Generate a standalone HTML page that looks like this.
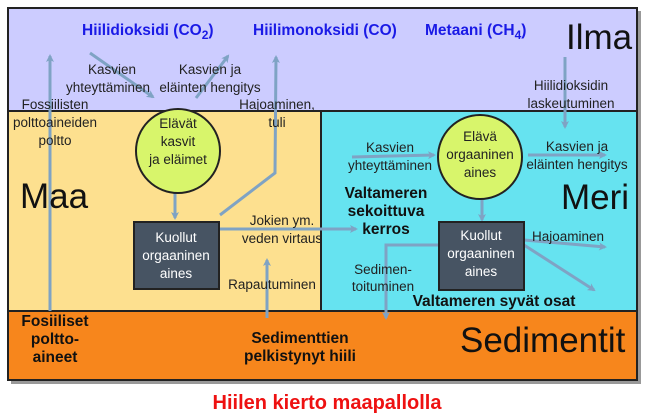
<!DOCTYPE html>
<html><head><meta charset="utf-8"><style>
body{margin:0;background:#fff;}
svg{display:block;font-family:"Liberation Sans",sans-serif;}
</style></head><body>
<svg width="650" height="420" viewBox="0 0 650 420">
<defs>
<marker id="a" markerWidth="8" markerHeight="8" refX="6" refY="4" orient="auto" markerUnits="userSpaceOnUse"><path d="M0,0 L8,4 L0,8 L2,4z" fill="#7fa3c4"/></marker>
</defs>
<rect x="11" y="11" width="630" height="373" fill="#999"/>
<rect x="8" y="8" width="629" height="103" fill="#ccccff" stroke="#222" stroke-width="2"/>
<rect x="8" y="111" width="313" height="200" fill="#fde08f" stroke="#222" stroke-width="2"/>
<rect x="321" y="111" width="316" height="200" fill="#66e3f0" stroke="#222" stroke-width="2"/>
<rect x="8" y="311" width="629" height="69" fill="#f7861c" stroke="#222" stroke-width="2"/>
<g stroke="#7fa3c4" stroke-width="3" fill="none" marker-end="url(#a)">
<line x1="50" y1="311" x2="50" y2="56"/>
<line x1="90" y1="53" x2="153" y2="97"/>
<line x1="196" y1="98" x2="228" y2="56"/>
<polyline points="220,215 275,173 276,57"/>
<line x1="175" y1="192" x2="175" y2="218"/>
<line x1="220" y1="229" x2="356" y2="229"/>
<line x1="267" y1="318" x2="267" y2="260"/>
<line x1="565" y1="57" x2="565" y2="127"/>
<line x1="352" y1="157" x2="434" y2="155"/>
<line x1="528" y1="155" x2="605" y2="155"/>
<line x1="482" y1="200" x2="482" y2="220"/>
<line x1="524" y1="240" x2="605" y2="247"/>
<line x1="524" y1="245" x2="594" y2="290"/>
<polyline points="438,245 386,245 386,318"/>
</g>
<circle cx="178" cy="151" r="42" fill="#d8f56b" stroke="#222" stroke-width="2"/>
<circle cx="480" cy="157" r="42" fill="#d8f56b" stroke="#222" stroke-width="2"/>
<rect x="134" y="222" width="85" height="67" fill="#475463" stroke="#222" stroke-width="2"/>
<rect x="439" y="222" width="85" height="68" fill="#475463" stroke="#222" stroke-width="2"/>
<g fill="#1a1ae6" font-weight="bold" font-size="15.5">
<text x="82" y="35">Hiilidioksidi (CO<tspan font-size="12" dy="4">2</tspan><tspan dy="-4">)</tspan></text>
<text x="253" y="35">Hiilimonoksidi (CO)</text>
<text x="425" y="35">Metaani (CH<tspan font-size="12" dy="4">4</tspan><tspan dy="-4">)</tspan></text>
</g>
<g fill="#111" font-size="35">
<text x="566" y="49">Ilma</text>
<text x="20" y="208">Maa</text>
<text x="561" y="209">Meri</text>
<text x="460" y="352">Sedimentit</text>
</g>
<g fill="#222" font-size="13.5" text-anchor="middle">
<text x="112" y="74">Kasvien</text><text x="108" y="92">yhteyttäminen</text>
<text x="210" y="74">Kasvien ja</text><text x="210" y="92">eläinten hengitys</text>
<text x="55" y="109">Fossiilisten</text><text x="55" y="127">polttoaineiden</text><text x="55" y="145">poltto</text>
<text x="277" y="109">Hajoaminen,</text><text x="277" y="127">tuli</text>
<text x="178" y="128">Elävät</text><text x="178" y="146">kasvit</text><text x="178" y="164">ja eläimet</text>
<text x="571" y="90">Hiilidioksidin</text><text x="571" y="108">laskeutuminen</text>
<text x="390" y="152">Kasvien</text><text x="390" y="170">yhteyttäminen</text>
<text x="480" y="141">Elävä</text><text x="480" y="159">orgaaninen</text><text x="480" y="177">aines</text>
<text x="577" y="151">Kasvien ja</text><text x="577" y="169">eläinten hengitys</text>
<text x="282" y="225">Jokien ym.</text><text x="282" y="243">veden virtaus</text>
<text x="272" y="289">Rapautuminen</text>
<text x="568" y="241">Hajoaminen</text>
<text x="383" y="274">Sedimen-</text><text x="383" y="291">toituminen</text>
</g>
<g fill="#fff" font-size="13.5" text-anchor="middle">
<text x="176" y="242">Kuollut</text><text x="176" y="260">orgaaninen</text><text x="176" y="278">aines</text>
<text x="481" y="240">Kuollut</text><text x="481" y="258">orgaaninen</text><text x="481" y="276">aines</text>
</g>
<g fill="#111" font-size="15.5" font-weight="bold" text-anchor="middle">
<text x="386" y="198">Valtameren</text><text x="386" y="216">sekoittuva</text><text x="386" y="234">kerros</text>
<text x="494" y="306">Valtameren syvät osat</text>
<text x="55" y="326">Fosiiliset</text><text x="55" y="344">poltto-</text><text x="55" y="362">aineet</text>
<text x="300" y="343">Sedimenttien</text><text x="300" y="361">pelkistynyt hiili</text>
</g>
<text x="327" y="409" text-anchor="middle" fill="#ee1111" font-size="20" font-weight="bold">Hiilen kierto maapallolla</text>
</svg>
</body></html>
